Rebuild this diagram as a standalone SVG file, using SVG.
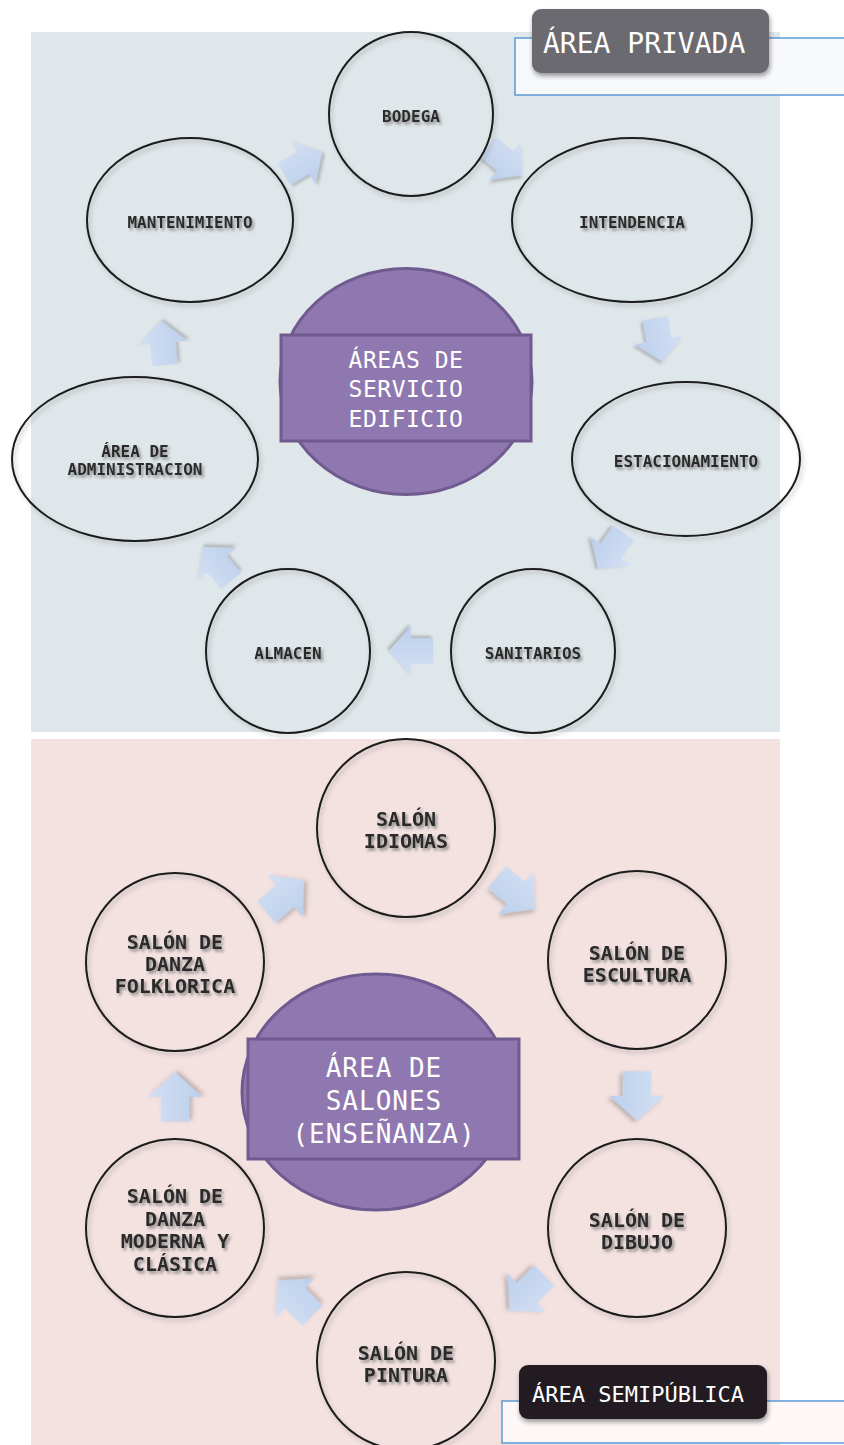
<svg xmlns="http://www.w3.org/2000/svg" xmlns:xlink="http://www.w3.org/1999/xlink" width="844" height="1445" viewBox="0 0 844 1445">
<defs>
<linearGradient id="ag" x1="0" y1="0" x2="0" y2="1">
<stop offset="0" stop-color="#d3e0f4"/>
<stop offset="1" stop-color="#bccfeb"/>
</linearGradient>
<filter id="ts" x="-20%" y="-50%" width="140%" height="200%">
<feDropShadow dx="2" dy="2.5" stdDeviation="1.6" flood-color="#6b6b6b" flood-opacity="0.75"/>
</filter>
<filter id="ns" x="-10%" y="-10%" width="125%" height="125%">
<feDropShadow dx="2" dy="3" stdDeviation="2" flood-color="#555" flood-opacity="0.35"/>
</filter>
<filter id="ls" x="-10%" y="-20%" width="125%" height="150%">
<feDropShadow dx="1" dy="3" stdDeviation="2.5" flood-color="#000" flood-opacity="0.4"/>
</filter>
<path id="arrow" d="M-26,-15 L0,-15 L0,-29 L26,0 L0,29 L0,15 L-26,15 Z"/>
</defs>
<style>
.node{fill:none;stroke:#1b1b1b;stroke-width:2;filter:url(#ns)}
.lt{font-family:"DejaVu Sans Mono",monospace;font-weight:bold;fill:#2a2a2a;text-anchor:middle;filter:url(#ts)}
.t16{font-size:16px}
.t20{font-size:20px}
.hub{fill:#8f78af;stroke:#6f5b8f;stroke-width:3}
.ht{font-family:"DejaVu Sans Mono",monospace;fill:#ffffff;text-anchor:middle}
.arr{fill:url(#ag);filter:url(#ns)}
.tag{font-family:"DejaVu Sans Mono",monospace;fill:#ffffff}
</style>

<!-- panels -->
<rect x="0" y="0" width="844" height="1445" fill="#ffffff"/>
<rect x="31" y="32" width="749" height="700" fill="#e0e7ea"/>
<rect x="31" y="739" width="749" height="706" fill="#f4e2e1"/>

<!-- connectors -->
<g id="connectors">
<use xlink:href="#arrow" class="arr" transform="translate(303,163) rotate(-30) scale(0.85)"/>
<use xlink:href="#arrow" class="arr" transform="translate(505,161) rotate(40) scale(0.85)"/>
<use xlink:href="#arrow" class="arr" transform="translate(659,340) rotate(80) scale(0.85)"/>
<use xlink:href="#arrow" class="arr" transform="translate(611,551) rotate(125) scale(0.85)"/>
<use xlink:href="#arrow" class="arr" transform="translate(411,651) rotate(180) scale(0.85)"/>
<use xlink:href="#arrow" class="arr" transform="translate(217,564) rotate(-130) scale(0.85)"/>
<use xlink:href="#arrow" class="arr" transform="translate(163,343) rotate(-95) scale(0.85)"/>
<use xlink:href="#arrow" class="arr" transform="translate(285,896) rotate(-40) scale(0.95)"/>
<use xlink:href="#arrow" class="arr" transform="translate(516,893) rotate(40) scale(0.95)"/>
<use xlink:href="#arrow" class="arr" transform="translate(637,1096) rotate(90) scale(0.95)"/>
<use xlink:href="#arrow" class="arr" transform="translate(527,1293) rotate(135) scale(0.95)"/>
<use xlink:href="#arrow" class="arr" transform="translate(295,1298) rotate(-135) scale(0.95)"/>
<use xlink:href="#arrow" class="arr" transform="translate(175,1097) rotate(-90) scale(0.95)"/>
</g>

<!-- top section nodes -->
<g id="hub-servicio">
<ellipse class="hub" cx="406" cy="381.5" rx="126" ry="113"/>
<rect class="hub" x="281" y="335" width="250" height="106"/>
<text class="ht" x="406" y="368" font-size="23" letter-spacing="0.5">ÁREAS DE</text>
<text class="ht" x="406" y="397" font-size="23" letter-spacing="0.5">SERVICIO</text>
<text class="ht" x="406" y="427" font-size="23" letter-spacing="0.5">EDIFICIO</text>
</g>
<g id="bodega">
<circle class="node" cx="411" cy="114" r="82"/>
<text class="lt t16" x="411" y="122">BODEGA</text>
</g>
<g id="intendencia">
<ellipse class="node" cx="632" cy="220" rx="120" ry="82"/>
<text class="lt t16" x="632" y="228">INTENDENCIA</text>
</g>
<g id="mantenimiento">
<ellipse class="node" cx="190" cy="220" rx="103" ry="82"/>
<text class="lt t16" x="190" y="228">MANTENIMIENTO</text>
</g>
<g id="estacionamiento">
<ellipse class="node" cx="686" cy="459" rx="114" ry="77"/>
<text class="lt t16" x="686" y="467">ESTACIONAMIENTO</text>
</g>
<g id="administracion">
<ellipse class="node" cx="135" cy="459" rx="123" ry="82"/>
<text class="lt t16" x="135" y="457">ÁREA DE</text>
<text class="lt t16" x="135" y="475">ADMINISTRACION</text>
</g>
<g id="almacen">
<circle class="node" cx="288" cy="651" r="82"/>
<text class="lt t16" x="288" y="659">ALMACEN</text>
</g>
<g id="sanitarios">
<circle class="node" cx="533" cy="651" r="82"/>
<text class="lt t16" x="533" y="659">SANITARIOS</text>
</g>

<!-- bottom section nodes -->
<g id="hub-salones">
<ellipse class="hub" cx="376" cy="1092" rx="134" ry="118"/>
<rect class="hub" x="248" y="1039" width="271" height="120"/>
<text class="ht" x="384" y="1077" font-size="26" letter-spacing="1">ÁREA DE</text>
<text class="ht" x="384" y="1110" font-size="26" letter-spacing="1">SALONES</text>
<text class="ht" x="384" y="1143" font-size="26" letter-spacing="1">(ENSEÑANZA)</text>
</g>
<g id="idiomas">
<circle class="node" cx="406" cy="828" r="89"/>
<text class="lt t20" x="406" y="826">SALÓN</text>
<text class="lt t20" x="406" y="848">IDIOMAS</text>
</g>
<g id="escultura">
<circle class="node" cx="637" cy="960" r="89"/>
<text class="lt t20" x="637" y="960">SALÓN DE</text>
<text class="lt t20" x="637" y="982">ESCULTURA</text>
</g>
<g id="folklorica">
<circle class="node" cx="175" cy="962" r="89"/>
<text class="lt t20" x="175" y="949">SALÓN DE</text>
<text class="lt t20" x="175" y="971">DANZA</text>
<text class="lt t20" x="175" y="993">FOLKLORICA</text>
</g>
<g id="dibujo">
<circle class="node" cx="637" cy="1228" r="89"/>
<text class="lt t20" x="637" y="1227">SALÓN DE</text>
<text class="lt t20" x="637" y="1249">DIBUJO</text>
</g>
<g id="moderna">
<circle class="node" cx="175" cy="1228" r="89"/>
<text class="lt t20" x="175" y="1203">SALÓN DE</text>
<text class="lt t20" x="175" y="1226">DANZA</text>
<text class="lt t20" x="175" y="1248">MODERNA Y</text>
<text class="lt t20" x="175" y="1271">CLÁSICA</text>
</g>
<g id="pintura">
<circle class="node" cx="406" cy="1361" r="89"/>
<text class="lt t20" x="406" y="1360">SALÓN DE</text>
<text class="lt t20" x="406" y="1382">PINTURA</text>
</g>

<!-- labels -->
<g id="label-privada">
<rect x="515" y="38" width="340" height="57" fill="#f7f9fb" stroke="#5b9bd5" stroke-width="1.5"/>
<rect x="532" y="9" width="237" height="64" rx="9" fill="#6b6b70" filter="url(#ls)"/>
<text class="tag" x="543" y="53" font-size="28">ÁREA PRIVADA</text>
</g>
<g id="label-semipublica">
<rect x="502" y="1401" width="350" height="42" fill="#fdf8f7" stroke="#5b9bd5" stroke-width="1.5"/>
<rect x="519" y="1365" width="248" height="54" rx="9" fill="#231f20" filter="url(#ls)"/>
<text class="tag" x="532" y="1402" font-size="22">ÁREA SEMIPÚBLICA</text>
</g>
</svg>
